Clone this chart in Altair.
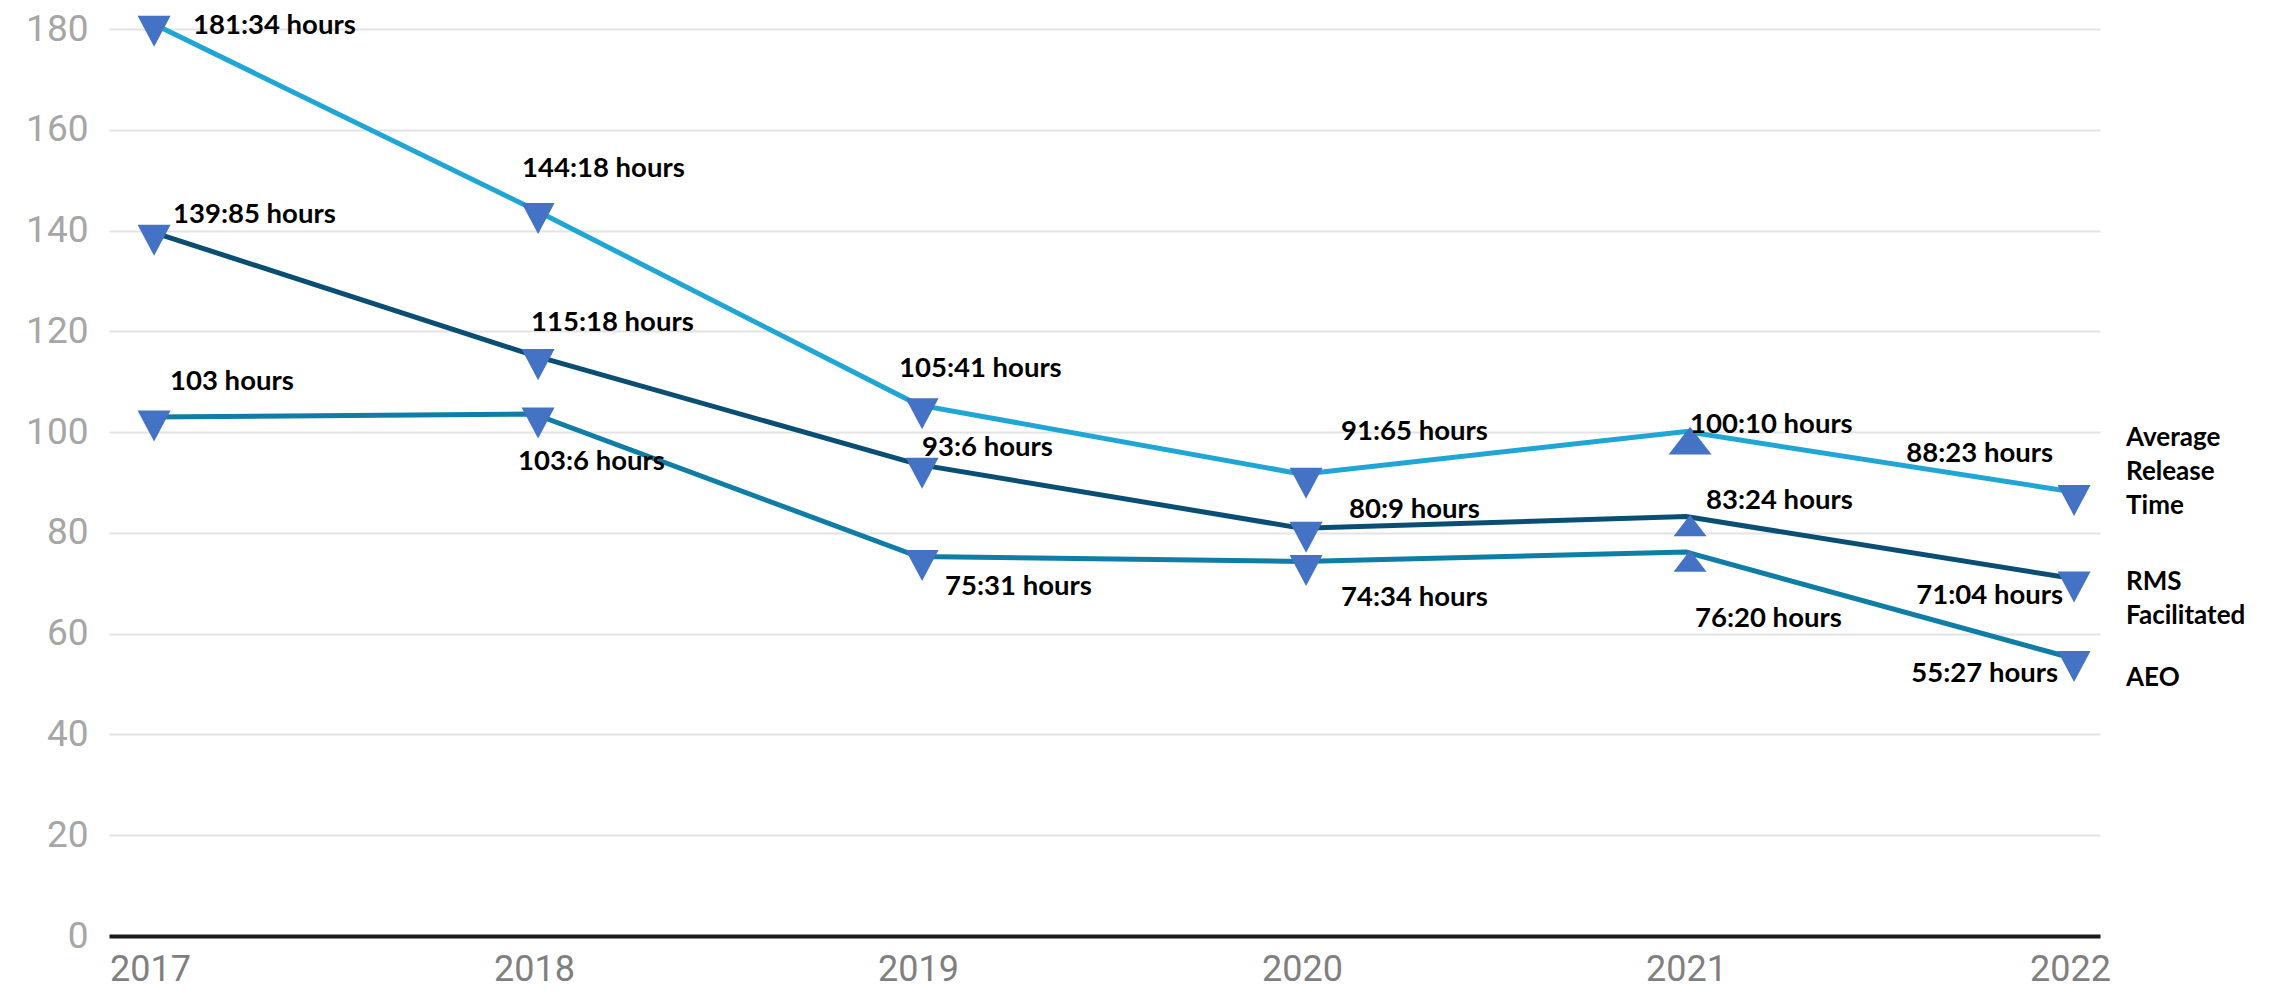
import altair as alt
import pandas as pd

# ---------------- data ----------------
years = [2017, 2018, 2019, 2020, 2021, 2022]

series_names = ["Average Release Time", "RMS Facilitated", "AEO"]
avg_values = [181.34, 144.18, 105.41, 91.65, 100.10, 88.23]
rms_values = [139.85, 115.18, 93.6, 80.9, 83.24, 71.04]
aeo_values = [103.0, 103.6, 75.31, 74.34, 76.20, 55.27]

avg_text = ["181:34 hours", "144:18 hours", "105:41 hours", "91:65 hours", "100:10 hours", "88:23 hours"]
rms_text = ["139:85 hours", "115:18 hours", "93:6 hours", "80:9 hours", "83:24 hours", "71:04 hours"]
aeo_text = ["103 hours", "103:6 hours", "75:31 hours", "74:34 hours", "76:20 hours", "55:27 hours"]

end_labels = ["Average\nRelease\nTime", "RMS\nFacilitated", "AEO"]
y_ticks = [0, 20, 40, 60, 80, 100, 120, 140, 160, 180]

# ---------------- styling ----------------
line_colors = ["#20a6d4", "#0a4e74", "#0f7da5"]
marker_color = "#4472c4"
DOWN = "M-1,-0.94L1,-0.94L0,0.94Z"
UP = "M0,-0.65L1,0.65L-1,0.65Z"

# label nudges (align, dx, dy) relative to each data point
nudges = {
    "Average Release Time": [("left", 43, 2), ("left", -12, -42), ("left", -19, -38),
                             ("left", 39, -44), ("left", 4, -9), ("right", -17, -39)],
    "RMS Facilitated": [("left", 23, -18), ("left", -3, -35), ("left", 4, -18),
                        ("left", 47, -20), ("left", 20, -18), ("right", -7, 16)],
    "AEO": [("left", 20, -37), ("left", -16, 46), ("left", 27, 28),
            ("left", 39, 35), ("left", 9, 65), ("right", -12, 14)],
}
# offset of the first line of each end label
end_nudges = {"Average Release Time": -55, "RMS Facilitated": 2, "AEO": 18}

rows = []
for name, vals, txts in zip(series_names, [avg_values, rms_values, aeo_values],
                            [avg_text, rms_text, aeo_text]):
    for yr, v, t in zip(years, vals, txts):
        rows.append({"series": name, "year": yr, "value": v, "label": t})
df = pd.DataFrame(rows)

end_df = pd.DataFrame({
    "series": series_names,
    "year": [years[-1]] * len(series_names),
    "value": [avg_values[-1], rms_values[-1], aeo_values[-1]],
    "label": end_labels,
})

x_enc = alt.X(
    "year:Q",
    scale=alt.Scale(domain=[2016.893, 2022.078], nice=False, zero=False),
    axis=alt.Axis(values=years, format="d", title=None, grid=False, ticks=False,
                  domainColor="#1a1a1a", domainWidth=4, labelFont="Roboto",
                  labelFontSize=36, labelColor="#7f7f7f", labelPadding=16,
                  labelFlush=False, labelOverlap=False),
)
y_enc = alt.Y(
    "value:Q",
    scale=alt.Scale(domain=[0, 180], nice=False),
    axis=alt.Axis(values=y_ticks, title=None, domain=False, ticks=False,
                  gridColor="#e3e3e3", gridWidth=2, labelFont="Roboto",
                  labelFontSize=37, labelColor="#a6a6a6", labelPadding=21,
                  labelFlush=False),
)

base = alt.Chart(df)

lines = base.mark_line(strokeWidth=5).encode(
    x=x_enc, y=y_enc,
    color=alt.Color("series:N", scale=alt.Scale(domain=series_names, range=line_colors), legend=None),
    order="year:Q",
)

points = base.mark_point(filled=True, opacity=1, color=marker_color, strokeWidth=0,
                         xOffset=4, yOffset=9).encode(
    x="year:Q", y="value:Q",
    shape=alt.condition("datum.year == 2021", alt.value(UP), alt.value(DOWN)),
    size=alt.condition("datum.year == 2021 && datum.series == 'Average Release Time'",
                       alt.value(1850), alt.value(1089)),
)

layers = [lines, points]
for name in series_names:
    for yr, (align, dx, dy) in zip(years, nudges[name]):
        layers.append(
            base.transform_filter(f"datum.series == '{name}' && datum.year == {yr}")
            .mark_text(font="Lato", fontWeight="bold", fontSize=27.5, color="#000000",
                       align=align, baseline="middle", dx=dx, dy=dy + 2)
            .encode(x="year:Q", y="value:Q", text="label:N")
        )

for name in series_names:
    layers.append(
        alt.Chart(end_df).transform_filter(f"datum.series == '{name}'")
        .mark_text(font="Lato", fontWeight="bold", fontSize=26, color="#000000",
                   align="left", baseline="middle", dx=56, dy=end_nudges[name] + 2,
                   lineBreak="\n", lineHeight=34)
        .encode(x="year:Q", y="value:Q", text="label:N")
    )

chart = alt.layer(*layers).properties(
    width=1991, height=907,
    autosize=alt.AutoSizeParams(type="none"),
    padding={"left": 101, "top": 21, "right": 170, "bottom": 56},
).configure_view(stroke=None)

chart.save("out.html", embed_options={"renderer": "svg", "actions": False})
